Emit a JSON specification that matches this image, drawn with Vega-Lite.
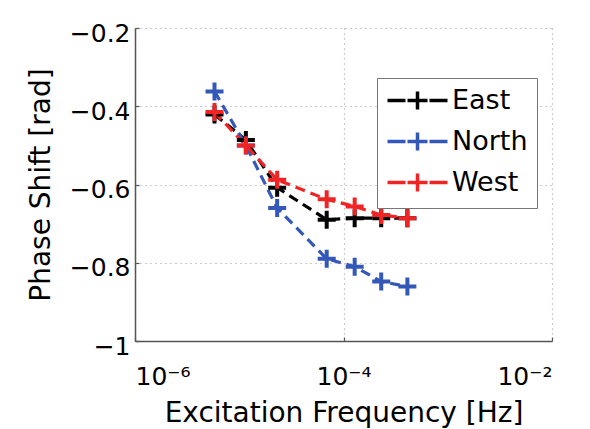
{
  "$schema": "https://vega.github.io/schema/vega-lite/v6.json",
  "width": 417,
  "height": 313,
  "autosize": "none",
  "padding": {"left": 135, "top": 28, "right": 38, "bottom": 88},
  "background": "white",
  "data": {
    "values": [
      {"f": 5.79e-6, "phase": -0.421, "site": "East"},
      {"f": 1.157e-5, "phase": -0.486, "site": "East"},
      {"f": 2.31e-5, "phase": -0.608, "site": "East"},
      {"f": 6.9e-5, "phase": -0.69, "site": "East"},
      {"f": 1.28e-4, "phase": -0.686, "site": "East"},
      {"f": 2.3e-4, "phase": -0.686, "site": "East"},
      {"f": 4.1e-4, "phase": -0.686, "site": "East"},
      {"f": 5.79e-6, "phase": -0.362, "site": "North"},
      {"f": 1.157e-5, "phase": -0.5, "site": "North"},
      {"f": 2.31e-5, "phase": -0.66, "site": "North"},
      {"f": 6.9e-5, "phase": -0.79, "site": "North"},
      {"f": 1.28e-4, "phase": -0.81, "site": "North"},
      {"f": 2.3e-4, "phase": -0.848, "site": "North"},
      {"f": 4.1e-4, "phase": -0.861, "site": "North"},
      {"f": 5.79e-6, "phase": -0.415, "site": "West"},
      {"f": 1.157e-5, "phase": -0.5, "site": "West"},
      {"f": 2.31e-5, "phase": -0.588, "site": "West"},
      {"f": 6.9e-5, "phase": -0.638, "site": "West"},
      {"f": 1.28e-4, "phase": -0.656, "site": "West"},
      {"f": 2.3e-4, "phase": -0.678, "site": "West"},
      {"f": 4.1e-4, "phase": -0.686, "site": "West"}
    ]
  },
  "encoding": {
    "x": {
      "field": "f", "type": "quantitative",
      "scale": {"type": "log", "domain": [1e-6, 1e-2], "nice": false},
      "axis": {
        "title": "Excitation Frequency [Hz]",
        "values": [1e-6, 1e-4, 1e-2],
        "labelExpr": "datum.value < 5e-6 ? '10⁻⁶' : datum.value < 5e-4 ? '10⁻⁴' : '10⁻²'",
        "labelPadding": 27,
        "titlePadding": 10
      }
    },
    "y": {
      "field": "phase", "type": "quantitative",
      "scale": {"domain": [-1, -0.2], "nice": false, "zero": false},
      "axis": {
        "title": "Phase Shift [rad]",
        "values": [-1, -0.8, -0.6, -0.4, -0.2],
        "format": "~g",
        "labelPadding": 9,
        "labelOffset": 5,
        "titlePadding": 14
      }
    },
    "color": {
      "field": "site", "type": "nominal",
      "scale": {"domain": ["East", "North", "West"], "range": ["#000000", "#3358b8", "#f02424"]},
      "legend": {
        "title": null,
        "orient": "none",
        "legendX": 242,
        "legendY": 50,
        "symbolType": "M-3,0H-1.2M-1,0H1M0,-0.9V0.9M1.2,0H3",
        "symbolSize": 400,
        "symbolStrokeWidth": 3.5,
        "symbolFillColor": "transparent",
        "symbolOffset": 18,
        "labelOffset": 21,
        "labelFont": "DejaVu Sans",
        "labelFontSize": 27,
        "labelColor": "black",
        "rowPadding": 8,
        "padding": 9,
        "fillColor": "white",
        "strokeColor": "#777777"
      }
    }
  },
  "layer": [
    {"mark": {"type": "line", "strokeDash": [10, 6], "strokeWidth": 3.2}},
    {"mark": {"type": "point", "shape": "M-1,0H1M0,-1V1", "size": 324, "filled": false, "strokeWidth": 4, "opacity": 1}}
  ],
  "config": {
    "font": "DejaVu Sans",
    "view": {"stroke": null},
    "axis": {
      "labelFont": "DejaVu Sans",
      "labelFontSize": 25,
      "labelColor": "black",
      "titleFont": "DejaVu Sans",
      "titleFontSize": 28,
      "titleFontWeight": "normal",
      "titleColor": "black",
      "ticks": true,
      "tickSize": -4,
      "tickColor": "#555555",
      "tickWidth": 1.2,
      "domainColor": "#555555",
      "domainWidth": 1.5,
      "grid": true,
      "gridColor": "#999999",
      "gridDash": [1, 4],
      "gridWidth": 1.2
    }
  }
}
